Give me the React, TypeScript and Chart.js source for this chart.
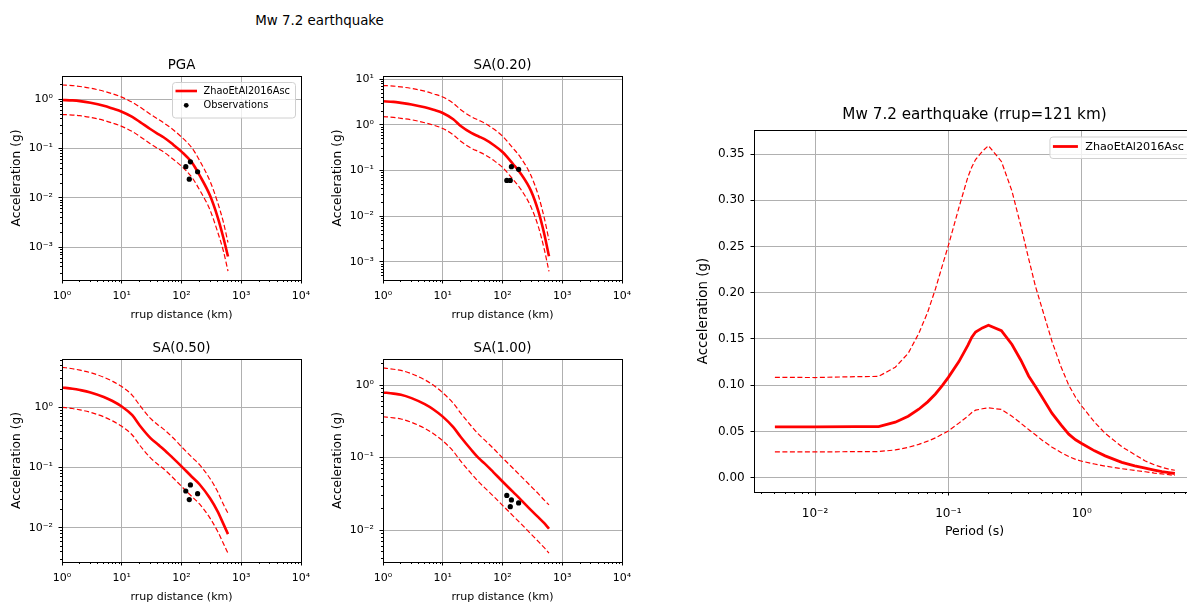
import React, { useEffect, useRef } from "react";
import { Chart, registerables } from "chart.js";

Chart.register(...registerables);

// ---------------- data ----------------
const distances = [1, 1.5, 2, 3, 5, 7, 10, 15, 20, 30, 40, 50, 70, 100, 150, 200, 300, 400, 500, 600];

const pgaMedian = [0.97, 0.95, 0.92, 0.85, 0.74, 0.65, 0.56, 0.44, 0.35, 0.25, 0.2, 0.17, 0.125, 0.087, 0.052, 0.029, 0.0112, 0.0042, 0.0016, 0.00065];
const pgaUpper = [1.95, 1.9, 1.82, 1.68, 1.46, 1.29, 1.11, 0.87, 0.7, 0.5, 0.4, 0.335, 0.25, 0.172, 0.103, 0.058, 0.022, 0.0083, 0.0033, 0.00125];
const pgaLower = [0.49, 0.48, 0.465, 0.43, 0.375, 0.33, 0.283, 0.222, 0.177, 0.126, 0.101, 0.086, 0.063, 0.044, 0.026, 0.0147, 0.0057, 0.0021, 0.00086, 0.00033];

const sa020Median = [3.3, 3.2, 3.05, 2.82, 2.45, 2.15, 1.83, 1.33, 0.95, 0.67, 0.56, 0.49, 0.37, 0.256, 0.14, 0.088, 0.036, 0.0126, 0.0041, 0.00133];
const sa020Upper = [7.3, 7.1, 6.8, 6.3, 5.5, 4.8, 4.1, 3.0, 2.15, 1.52, 1.27, 1.1, 0.83, 0.57, 0.31, 0.195, 0.078, 0.028, 0.0092, 0.003];
const sa020Lower = [1.52, 1.47, 1.4, 1.3, 1.12, 0.99, 0.84, 0.61, 0.44, 0.31, 0.26, 0.225, 0.17, 0.118, 0.064, 0.04, 0.016, 0.0058, 0.0019, 0.00062];

const sa050Median = [2.13, 2.03, 1.93, 1.76, 1.48, 1.27, 1.03, 0.74, 0.5, 0.312, 0.243, 0.202, 0.148, 0.105, 0.07, 0.053, 0.031, 0.019, 0.0118, 0.0079];
const sa050Upper = [4.6, 4.35, 4.12, 3.75, 3.15, 2.7, 2.2, 1.58, 1.08, 0.66, 0.515, 0.435, 0.322, 0.222, 0.148, 0.112, 0.066, 0.0405, 0.025, 0.0175];
const sa050Lower = [1.0, 0.955, 0.905, 0.825, 0.695, 0.595, 0.483, 0.347, 0.235, 0.146, 0.114, 0.096, 0.07, 0.049, 0.033, 0.025, 0.0146, 0.0089, 0.0056, 0.0038];

const sa100Median = [0.79, 0.76, 0.735, 0.66, 0.545, 0.46, 0.366, 0.262, 0.192, 0.128, 0.098, 0.083, 0.063, 0.0467, 0.0335, 0.0265, 0.0188, 0.0149, 0.0124, 0.0104];
const sa100Upper = [1.72, 1.65, 1.59, 1.43, 1.18, 0.99, 0.78, 0.56, 0.41, 0.272, 0.208, 0.175, 0.134, 0.099, 0.071, 0.056, 0.04, 0.0315, 0.0258, 0.0222];
const sa100Lower = [0.365, 0.352, 0.34, 0.305, 0.252, 0.213, 0.17, 0.122, 0.089, 0.06, 0.046, 0.0385, 0.0295, 0.0219, 0.0157, 0.0124, 0.0088, 0.0069, 0.0057, 0.0048];

const obsDistances = [118, 135, 141, 186];
const pgaObs = [0.043, 0.024, 0.054, 0.034];
const sa020Obs = [0.061, 0.061, 0.122, 0.107];
const sa050Obs = [0.041, 0.0295, 0.0516, 0.037];
const sa100Obs = [0.03, 0.021, 0.026, 0.0236];

const periods = [0.005, 0.01, 0.02, 0.03, 0.04, 0.05, 0.06, 0.07, 0.08, 0.09, 0.1, 0.12, 0.14, 0.15, 0.16, 0.18, 0.2, 0.25, 0.3, 0.35, 0.4, 0.45, 0.5, 0.6, 0.7, 0.8, 0.9, 1.0, 1.25, 1.5, 2.0, 2.5, 3.0, 3.5, 4.0, 4.5, 5.0];
const spectrumMedian = [0.055, 0.055, 0.0552, 0.0552, 0.06, 0.0665, 0.074, 0.082, 0.0905, 0.0995, 0.1085, 0.1255, 0.143, 0.152, 0.1575, 0.162, 0.1648, 0.159, 0.144, 0.127, 0.11, 0.0985, 0.088, 0.0695, 0.057, 0.047, 0.041, 0.037, 0.029, 0.0236, 0.0165, 0.0128, 0.0103, 0.0082, 0.0065, 0.0054, 0.0045];
const spectrumUpper = [0.1085, 0.1083, 0.1092, 0.1095, 0.1195, 0.1345, 0.156, 0.179, 0.204, 0.229, 0.251, 0.292, 0.325, 0.336, 0.344, 0.353, 0.359, 0.342, 0.31, 0.272, 0.237, 0.207, 0.185, 0.147, 0.12, 0.1, 0.087, 0.0775, 0.06, 0.048, 0.0335, 0.025, 0.018, 0.014, 0.0112, 0.0093, 0.008];
const spectrumLower = [0.028, 0.0279, 0.0281, 0.0282, 0.03, 0.0328, 0.036, 0.0395, 0.043, 0.047, 0.0505, 0.059, 0.0665, 0.0705, 0.073, 0.0745, 0.0755, 0.0738, 0.0665, 0.0588, 0.052, 0.0465, 0.041, 0.033, 0.0272, 0.0228, 0.0198, 0.0178, 0.0148, 0.0125, 0.0097, 0.0078, 0.0064, 0.005, 0.004, 0.0032, 0.0025];

const distanceTicks = [1, 10, 100, 1000, 10000];
const periodTicks = [0.01, 0.1, 1];
const accelTicks = [0, 0.05, 0.1, 0.15, 0.2, 0.25, 0.3, 0.35];

const modelName = "ZhaoEtAl2016Asc";
const obsName = "Observations";

// ---------------- helpers ----------------
const FONT = "'DejaVu Sans', sans-serif";
const GRID = "#b0b0b0";
const RED = "#ff0000";

const SUP: Record<string, string> = { "-": "⁻", "0": "⁰", "1": "¹", "2": "²", "3": "³", "4": "⁴", "5": "⁵", "6": "⁶", "7": "⁷", "8": "⁸", "9": "⁹" };
const pow10Label = (v: number) => {
  const e = Math.round(Math.log10(v));
  return "10" + String(e).split("").map((c) => SUP[c]).join("");
};

function logMajors(min: number, max: number) {
  const out: number[] = [];
  for (let e = Math.floor(Math.log10(min)); e <= Math.ceil(Math.log10(max)); e++) {
    const v = Math.pow(10, e);
    if (v >= min * 0.9999 && v <= max * 1.0001) out.push(v);
  }
  return out;
}
function logMinors(min: number, max: number) {
  const out: number[] = [];
  for (let e = Math.floor(Math.log10(min)) - 1; e <= Math.ceil(Math.log10(max)); e++) {
    for (let k = 2; k <= 9; k++) {
      const v = k * Math.pow(10, e);
      if (v >= min && v <= max) out.push(v);
    }
  }
  return out;
}

const toXY = (xs: number[], ys: number[]) => xs.map((x, i) => ({ x, y: ys[i] }));

function lineSet(label: string, xs: number[], ys: number[], solid: boolean, smooth: boolean, width: number) {
  return {
    type: "line",
    label,
    data: toXY(xs, ys),
    borderColor: RED,
    backgroundColor: RED,
    borderWidth: solid ? width : 1.2,
    borderDash: solid ? [] : [5, 2.5],
    pointRadius: 0,
    pointHoverRadius: 0,
    fill: false,
    tension: 0,
    cubicInterpolationMode: smooth ? "monotone" : "default",
  };
}
function obsSet(ys: number[]) {
  return {
    type: "scatter",
    label: obsName,
    data: toXY(obsDistances, ys),
    showLine: false,
    pointRadius: 2.6,
    pointHoverRadius: 2.6,
    pointBackgroundColor: "#000",
    pointBorderWidth: 0,
    borderColor: "#000",
    backgroundColor: "#000",
  };
}

type LegendSpec = {
  items: { label: string; kind: "line" | "dot" }[];
  fontSize: number;
  insetTop: number;
  insetRight: number;
  padLeft: number;
  lineLen: number;
  gap: number;
  firstRow: number;
  rowH: number;
  height: number;
  padRight: number;
  lineWidth: number;
};

type PanelSpec = {
  key: string;
  title: string;
  rect: { l: number; t: number; r: number; b: number };
  m: { l: number; r: number; b: number };
  titleSize: number;
  titlePadTop: number;
  titlePadBottom: number;
  tickSize: number;
  labelSize: number;
  yLabelSize: number;
  xType: string;
  yType: string;
  xMin: number;
  xMax: number;
  yMin: number;
  yMax: number;
  xMajor: number[];
  yMajor: number[];
  xMinor: number[];
  yMinor: number[];
  xFmt: (v: number) => string;
  yFmt: (v: number) => string;
  xTickPad: number;
  yTickPad: number;
  xLabel: string;
  yLabel: string;
  xTitlePad: number;
  yTitlePad: number;
  datasets: any[];
  legend: LegendSpec | null;
};

const mplPlugin = {
  id: "mplFrame",
  afterDatasetsDraw(chart: any, _args: any, opts: any) {
    const { ctx, chartArea: a, scales } = chart;
    const xs = scales.x;
    const ys = scales.y;
    ctx.save();
    ctx.strokeStyle = "#000";
    ctx.lineWidth = 1;
    const al = (p: number) => Math.round(p - 0.5) + 0.5;
    const drawX = (vals: number[], len: number) => {
      vals.forEach((v) => {
        const px = al(xs.getPixelForValue(v));
        if (px < a.left - 1 || px > a.right + 1) return;
        ctx.beginPath();
        ctx.moveTo(px, a.bottom);
        ctx.lineTo(px, a.bottom + len);
        ctx.stroke();
      });
    };
    const drawY = (vals: number[], len: number) => {
      vals.forEach((v) => {
        const py = al(ys.getPixelForValue(v));
        if (py < a.top - 1 || py > a.bottom + 1) return;
        ctx.beginPath();
        ctx.moveTo(a.left, py);
        ctx.lineTo(a.left - len, py);
        ctx.stroke();
      });
    };
    drawX(opts.xMajor, 3.5);
    drawX(opts.xMinor, 2);
    drawY(opts.yMajor, 3.5);
    drawY(opts.yMinor, 2);
    ctx.strokeRect(Math.round(a.left) + 0.5, Math.round(a.top) + 0.5, Math.round(a.right) - Math.round(a.left), Math.round(a.bottom) - Math.round(a.top));
    ctx.restore();
  },
  afterDraw(chart: any, _args: any, opts: any) {
    const lg: LegendSpec | null = opts.legend;
    if (!lg) return;
    const { ctx, chartArea: a } = chart;
    ctx.save();
    ctx.font = `${lg.fontSize}px ${FONT}`;
    const tw = Math.max(...lg.items.map((it) => ctx.measureText(it.label).width));
    const w = lg.padLeft + lg.lineLen + lg.gap + tw + lg.padRight;
    const x0 = a.right - lg.insetRight - w;
    const y0 = a.top + lg.insetTop;
    ctx.beginPath();
    if ((ctx as any).roundRect) (ctx as any).roundRect(x0 + 0.5, y0 + 0.5, w, lg.height, 3);
    else ctx.rect(x0 + 0.5, y0 + 0.5, w, lg.height);
    ctx.fillStyle = "rgba(255,255,255,0.8)";
    ctx.fill();
    ctx.strokeStyle = "#d0d0d0";
    ctx.lineWidth = 1;
    ctx.stroke();
    lg.items.forEach((it, i) => {
      const cy = y0 + lg.firstRow + i * lg.rowH;
      const lx = x0 + lg.padLeft;
      if (it.kind === "line") {
        ctx.strokeStyle = RED;
        ctx.lineWidth = lg.lineWidth;
        ctx.beginPath();
        ctx.moveTo(lx, cy);
        ctx.lineTo(lx + lg.lineLen, cy);
        ctx.stroke();
      } else {
        ctx.fillStyle = "#000";
        ctx.beginPath();
        ctx.arc(lx + lg.lineLen / 2, cy, 2.4, 0, Math.PI * 2);
        ctx.fill();
      }
      ctx.fillStyle = "#000";
      ctx.textAlign = "left";
      ctx.textBaseline = "middle";
      ctx.fillText(it.label, lx + lg.lineLen + lg.gap, cy + 0.5);
    });
    ctx.restore();
  },
};

function mtOf(p: PanelSpec) {
  return p.titlePadTop + p.titleSize * 1.2 + p.titlePadBottom;
}

function buildConfig(p: PanelSpec): any {
  return {
    type: "line",
    data: { datasets: p.datasets },
    options: {
      animation: false,
      responsive: false,
      maintainAspectRatio: false,
      devicePixelRatio: 1,
      events: [],
      layout: { padding: { top: 0, left: 0, right: p.m.r, bottom: 0 } },
      plugins: {
        legend: { display: false },
        tooltip: { enabled: false },
        title: {
          display: true,
          fullSize: false,
          text: p.title,
          color: "#000",
          font: { family: FONT, size: p.titleSize, weight: "normal", lineHeight: 1.2 },
          padding: { top: p.titlePadTop, bottom: p.titlePadBottom },
        },
        mplFrame: { xMajor: p.xMajor, xMinor: p.xMinor, yMajor: p.yMajor, yMinor: p.yMinor, legend: p.legend },
      },
      scales: {
        x: {
          type: p.xType,
          position: "bottom",
          min: p.xMin,
          max: p.xMax,
          bounds: "data",
          afterBuildTicks: (s: any) => {
            s.ticks = p.xMajor.map((v) => ({ value: v }));
          },
          afterFit: (s: any) => {
            s.height = p.m.b;
          },
          grid: { color: GRID, lineWidth: 1, drawTicks: false },
          border: { display: false },
          ticks: {
            autoSkip: false,
            maxRotation: 0,
            minRotation: 0,
            padding: p.xTickPad,
            color: "#000",
            font: { family: FONT, size: p.tickSize },
            callback: (v: any) => p.xFmt(Number(v)),
          },
          title: {
            display: true,
            text: p.xLabel,
            color: "#000",
            font: { family: FONT, size: p.labelSize, lineHeight: 1.2 },
            padding: { top: 0, bottom: p.xTitlePad },
          },
        },
        y: {
          type: p.yType,
          position: "left",
          min: p.yMin,
          max: p.yMax,
          bounds: "data",
          afterBuildTicks: (s: any) => {
            s.ticks = p.yMajor.map((v) => ({ value: v }));
          },
          afterFit: (s: any) => {
            s.width = p.m.l;
          },
          grid: { color: GRID, lineWidth: 1, drawTicks: false },
          border: { display: false },
          ticks: {
            autoSkip: false,
            padding: p.yTickPad,
            color: "#000",
            font: { family: FONT, size: p.tickSize },
            callback: (v: any) => p.yFmt(Number(v)),
          },
          title: {
            display: true,
            text: p.yLabel,
            color: "#000",
            font: { family: FONT, size: p.yLabelSize, lineHeight: 1.2 },
            padding: { top: p.yTitlePad, bottom: 0 },
          },
        },
      },
    },
    plugins: [mplPlugin],
  };
}

// ---------------- panels ----------------
function smallPanel(
  key: string,
  title: string,
  rect: { l: number; t: number; r: number; b: number },
  yMin: number,
  yMax: number,
  median: number[],
  upper: number[],
  lower: number[],
  obs: number[],
  withLegend: boolean
): PanelSpec {
  return {
    key,
    title,
    rect,
    m: { l: 62, r: 25, b: 50 },
    titleSize: 13.4,
    titlePadTop: 4,
    titlePadBottom: 2.92,
    tickSize: 11,
    labelSize: 11,
    yLabelSize: 12.2,
    xType: "logarithmic",
    yType: "logarithmic",
    xMin: 1,
    xMax: 10000,
    yMin,
    yMax,
    xMajor: distanceTicks,
    yMajor: logMajors(yMin, yMax),
    xMinor: logMinors(1, 10000),
    yMinor: logMinors(yMin, yMax),
    xFmt: pow10Label,
    yFmt: pow10Label,
    xTickPad: 10,
    yTickPad: 9,
    xLabel: "rrup distance (km)",
    yLabel: "Acceleration (g)",
    xTitlePad: 8.4,
    yTitlePad: 9.4,
    datasets: [
      obsSet(obs),
      lineSet(modelName, distances, median, true, true, 2.6),
      lineSet(modelName + " +σ", distances, upper, false, true, 1.2),
      lineSet(modelName + " -σ", distances, lower, false, true, 1.2),
    ],
    legend: withLegend
      ? {
          items: [
            { label: modelName, kind: "line" },
            { label: obsName, kind: "dot" },
          ],
          fontSize: 9.8,
          insetTop: 6,
          insetRight: 6,
          padLeft: 3.5,
          lineLen: 21.5,
          gap: 6.5,
          firstRow: 9,
          rowH: 14.3,
          height: 35.5,
          padRight: 5,
          lineWidth: 2.6,
        }
      : null,
  };
}

const PANELS: PanelSpec[] = [
  smallPanel("pga", "PGA", { l: 62, t: 76, r: 301, b: 280 }, 2.17e-4, 2.97, pgaMedian, pgaUpper, pgaLower, pgaObs, true),
  smallPanel("sa020", "SA(0.20)", { l: 383, t: 76, r: 622, b: 280 }, 4.03e-4, 11.81, sa020Median, sa020Upper, sa020Lower, sa020Obs, false),
  smallPanel("sa050", "SA(0.50)", { l: 62, t: 359, r: 301, b: 562 }, 2.73e-3, 6.31, sa050Median, sa050Upper, sa050Lower, sa050Obs, false),
  smallPanel("sa100", "SA(1.00)", { l: 383, t: 359, r: 622, b: 562 }, 3.62e-3, 2.284, sa100Median, sa100Upper, sa100Lower, sa100Obs, false),
  {
    key: "spectrum",
    title: "Mw 7.2 earthquake (rrup=121 km)",
    rect: { l: 754, t: 130, r: 1195, b: 492 },
    m: { l: 70, r: 10, b: 55 },
    titleSize: 15.2,
    titlePadTop: 4,
    titlePadBottom: 5.76,
    tickSize: 12,
    labelSize: 12.5,
    yLabelSize: 13.4,
    xType: "logarithmic",
    yType: "linear",
    xMin: 0.003486,
    xMax: 7.08,
    yMin: -0.0155,
    yMax: 0.376,
    xMajor: periodTicks,
    yMajor: accelTicks,
    xMinor: logMinors(0.003486, 7.08),
    yMinor: [],
    xFmt: pow10Label,
    yFmt: (v: number) => v.toFixed(2),
    xTickPad: 14.6,
    yTickPad: 9.3,
    xLabel: "Period (s)",
    yLabel: "Acceleration (g)",
    xTitlePad: 7.5,
    yTitlePad: 11.7,
    datasets: [
      lineSet(modelName, periods, spectrumMedian, true, false, 2.8),
      lineSet(modelName + " +σ", periods, spectrumUpper, false, false, 1.2),
      lineSet(modelName + " -σ", periods, spectrumLower, false, false, 1.2),
    ],
    legend: {
      items: [{ label: modelName, kind: "line" }],
      fontSize: 11.2,
      insetTop: 6.5,
      insetRight: 6,
      padLeft: 3.5,
      lineLen: 25,
      gap: 7.3,
      firstRow: 10,
      rowH: 14,
      height: 21.5,
      padRight: 5,
      lineWidth: 2.8,
    },
  },
];

function Panel({ spec }: { spec: PanelSpec }) {
  const ref = useRef<HTMLCanvasElement>(null);
  const mt = mtOf(spec);
  const w = Math.round(spec.rect.r - spec.rect.l + spec.m.l + spec.m.r);
  const h = Math.round(spec.rect.b - spec.rect.t + mt + spec.m.b);
  useEffect(() => {
    if (!ref.current) return;
    const chart = new Chart(ref.current, buildConfig(spec));
    return () => chart.destroy();
  }, []);
  return (
    <canvas
      ref={ref}
      width={w}
      height={h}
      style={{ position: "absolute", left: spec.rect.l - spec.m.l, top: spec.rect.t - mt, width: w, height: h }}
    />
  );
}

export default function App() {
  return (
    <div
      style={{
        position: "fixed",
        left: 0,
        top: 0,
        width: 1187,
        height: 605,
        overflow: "hidden",
        background: "#fff",
        fontFamily: FONT,
      }}
    >
      <div
        style={{
          position: "absolute",
          left: 0,
          width: 639,
          top: 12,
          textAlign: "center",
          fontSize: 13.4,
          lineHeight: "18px",
          color: "#000",
        }}
      >
        Mw 7.2 earthquake
      </div>
      {PANELS.map((p) => (
        <Panel key={p.key} spec={p} />
      ))}
    </div>
  );
}
